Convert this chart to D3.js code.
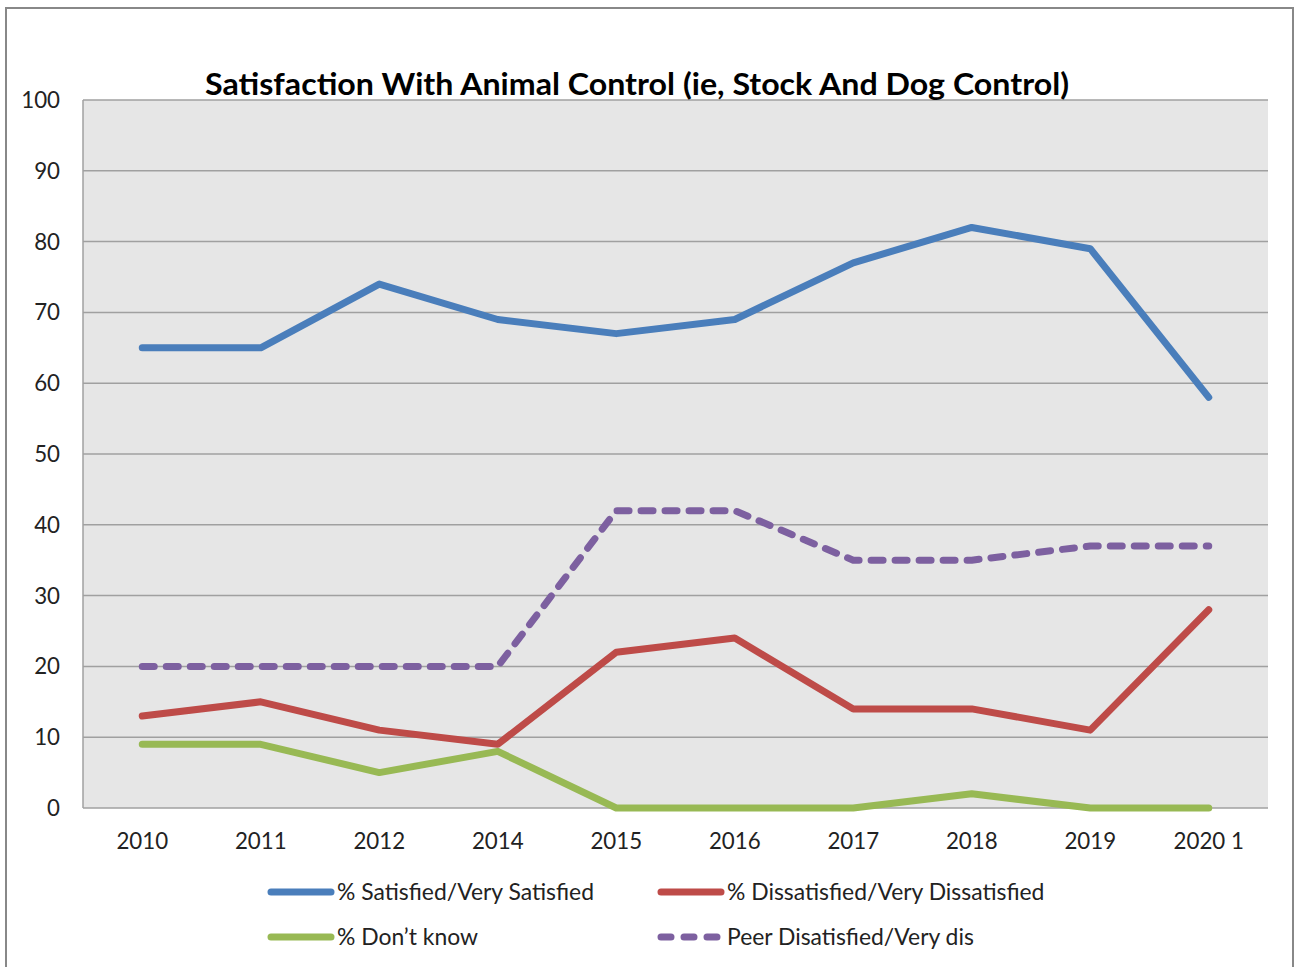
<!DOCTYPE html>
<html><head><meta charset="utf-8">
<script src="https://cdn.jsdelivr.net/npm/d3@7"></script>
<style>body{margin:0;background:#fff}svg{display:block}</style>
</head><body>
<svg id="c" width="1301" height="967"></svg>
<script>
const categories = ["2010","2011","2012","2014","2015","2016","2017","2018","2019","2020 1"];
const satisfied = [65,65,74,69,67,69,77,82,79,58];
const dissatisfied = [13,15,11,9,22,24,14,14,11,28];
const dontKnow = [9,9,5,8,0,0,0,2,0,0];
const peerDissatisfied = [20,20,20,20,42,42,35,35,37,37];
const yTicks = [0,10,20,30,40,50,60,70,80,90,100];
const seriesNames = ["% Satisfied/Very Satisfied","% Dissatisfied/Very Dissatisfied","% Don\u2019t know","Peer Disatisfied/Very dis"];
const title = "Satisfaction With Animal Control (ie, Stock And Dog Control)";

const series = [
  {name: seriesNames[0], values: satisfied, color: "#4a7ebb", dash: null},
  {name: seriesNames[1], values: dissatisfied, color: "#be4b48", dash: null},
  {name: seriesNames[2], values: dontKnow, color: "#98b954", dash: null},
  {name: seriesNames[3], values: peerDissatisfied, color: "#7d60a0", dash: "12,12"}
];

const svg = d3.select("#c");
const font = "Lato, 'Open Sans', sans-serif";
const L = 83, R = 1268, T = 100, B = 808;

svg.append("rect").attr("x",6).attr("y",8).attr("width",1287).attr("height",980)
  .attr("fill","#fff").attr("stroke","#888").attr("stroke-width",2);

const x = d3.scaleBand().domain(categories).range([L,R]);
const y = d3.scaleLinear().domain([0,100]).range([B,T]);

svg.append("rect").attr("x",L).attr("y",T).attr("width",R-L).attr("height",B-T).attr("fill","#e6e6e6");

svg.append("g").selectAll("line").data(yTicks.filter(d=>d>0)).join("line")
  .attr("x1",L).attr("x2",R).attr("y1",d=>y(d)).attr("y2",d=>y(d))
  .attr("stroke","#a0a0a0").attr("stroke-width",1.5);

svg.append("line").attr("x1",L).attr("x2",L).attr("y1",T).attr("y2",B).attr("stroke","#a0a0a0").attr("stroke-width",1.5);
svg.append("line").attr("x1",L).attr("x2",R).attr("y1",B).attr("y2",B).attr("stroke","#a0a0a0").attr("stroke-width",1.5);

svg.append("g").selectAll("text").data(yTicks).join("text")
  .attr("x",60).attr("y",d=>y(d)+8).attr("text-anchor","end")
  .attr("font-family",font).attr("font-size",22.3).attr("fill","#222").text(d=>d);

svg.append("g").selectAll("text").data(categories).join("text")
  .attr("x",d=>x(d)+x.bandwidth()/2).attr("y",849).attr("text-anchor","middle")
  .attr("font-family",font).attr("font-size",22.3).attr("fill","#222").text(d=>d);

const line = d3.line().x((d,i)=>x(categories[i])+x.bandwidth()/2).y(d=>y(d));
series.forEach(s=>{
  svg.append("path").datum(s.values).attr("d",line).attr("fill","none")
    .attr("stroke",s.color).attr("stroke-width",7)
    .attr("stroke-linejoin","round").attr("stroke-linecap","round")
    .attr("stroke-dasharray",s.dash);
});

svg.append("text").attr("x",637).attr("y",95).attr("text-anchor","middle")
  .attr("font-family",font).attr("font-size",31).attr("font-weight","bold").attr("fill","#000")
  .attr("textLength",864).attr("lengthAdjust","spacingAndGlyphs").text(title);

const legendPos = [[268,892],[658,892],[268,937],[658,937]];
series.forEach((s,i)=>{
  const [lx,ly] = legendPos[i];
  svg.append("line").attr("x1",lx+3).attr("x2",lx+63).attr("y1",ly).attr("y2",ly)
    .attr("stroke",s.color).attr("stroke-width",7).attr("stroke-linecap","round")
    .attr("stroke-dasharray", s.dash ? "10,13" : null);
  svg.append("text").attr("x",lx+69).attr("y",ly+8).attr("font-family",font).attr("font-size",22.9)
    .attr("fill","#222").text(s.name);
});
</script>
</body></html>
